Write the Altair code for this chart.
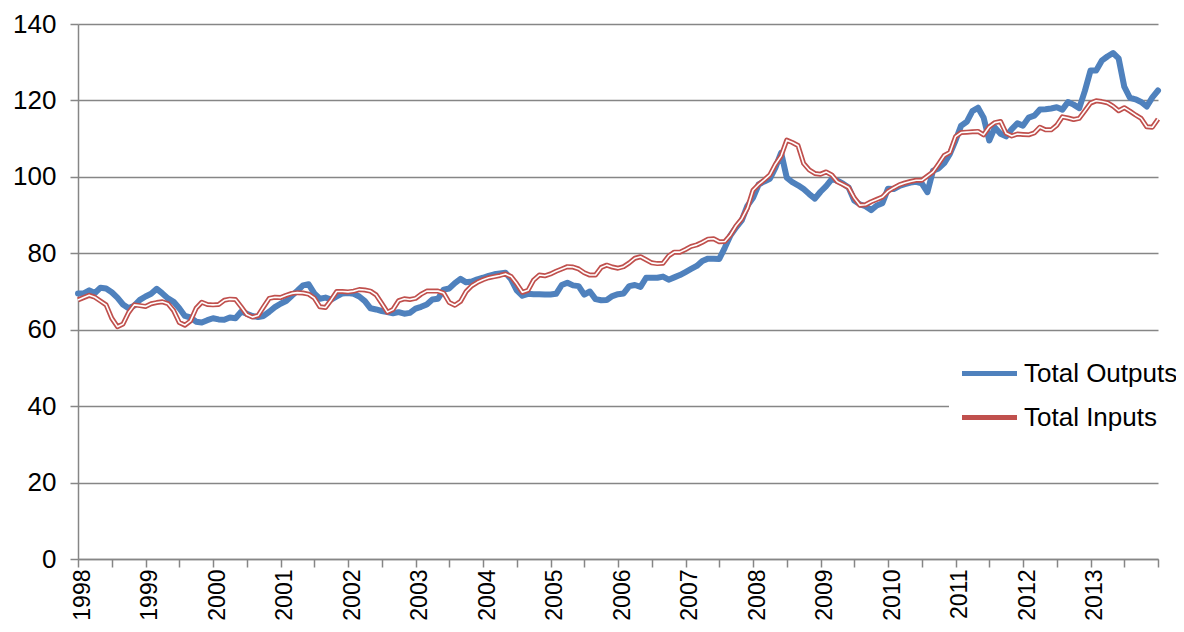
import altair as alt
import pandas as pd

years = list(range(1998, 2014))
series_names = ["Total Outputs", "Total Inputs"]
series_colors = ["#4F81BD", "#C0504D"]
y_ticks = [0, 20, 40, 60, 80, 100, 120, 140]

# Monthly index values, Jan 1998 onward
total_outputs = [
    69.5, 69.5, 70.3, 69.6, 71.0, 70.8, 69.8, 68.4, 66.6, 65.6, 66.3, 67.8,
    68.7, 69.4, 70.7, 69.5, 68.2, 67.3, 65.6, 63.6, 63.2, 62.1, 61.9, 62.5,
    63.0, 62.7, 62.6, 63.2, 63.0, 64.7, 64.2, 63.6, 63.3, 63.6, 64.7, 65.9,
    66.8, 67.5, 68.9, 70.2, 71.6, 71.9, 69.5, 68.1, 68.4, 67.9, 68.7, 69.5,
    69.6, 69.4, 68.7, 67.5, 65.6, 65.3, 64.9, 64.6, 64.3, 64.6, 64.2, 64.4,
    65.5, 66.0, 66.6, 67.9, 68.1, 70.5, 70.8, 72.2, 73.3, 72.4, 72.6, 73.2,
    73.6, 74.1, 74.5, 74.7, 74.9, 73.2, 70.3, 68.9, 69.4, 69.3, 69.3, 69.2,
    69.2, 69.4, 71.7, 72.3, 71.6, 71.4, 69.2, 70.0, 68.0, 67.7, 67.8, 68.8,
    69.3, 69.5, 71.4, 71.7, 71.2, 73.6, 73.6, 73.6, 73.9, 73.1, 73.7, 74.3,
    75.1, 75.9, 76.7, 78.0, 78.6, 78.6, 78.5, 81.5, 84.7, 86.8, 88.6, 92.4,
    94.5, 98.0, 98.8, 99.5, 102.5, 106.3, 99.8, 98.6, 97.8, 96.8, 95.5, 94.3,
    96.1, 97.6, 99.4, 99.0, 98.2, 97.2, 93.8, 92.8, 92.3, 91.3, 92.5, 93.1,
    96.9, 96.8, 97.6, 98.1, 98.5, 98.7, 98.3, 96.0, 101.6, 102.2, 103.6, 106.0,
    109.5, 113.4, 114.4, 117.2, 118.1, 115.5, 109.5, 112.9, 111.3, 110.6, 112.5, 114.0,
    113.4, 115.5, 116.0, 117.6, 117.7, 117.9, 118.2, 117.6, 119.6, 118.9, 118.0, 122.5,
    127.8, 127.8, 130.4, 131.5, 132.4, 131.0, 123.6, 120.7, 120.3, 119.6, 118.4, 120.8,
    122.6,
]

total_inputs = [
    67.8, 68.4, 69.0, 68.5, 67.5, 66.5, 63.0, 60.8, 61.5, 64.5, 66.5, 66.3,
    66.1, 66.8, 67.1, 67.3, 66.8, 65.0, 61.9, 61.2, 62.3, 65.6, 67.2, 66.6,
    66.5, 66.6, 67.7, 68.0, 67.9, 66.0, 64.0, 63.3, 63.7, 66.0, 68.2, 68.5,
    68.4, 69.0, 69.5, 69.7, 69.6, 69.3, 68.3, 66.0, 65.8, 67.8, 70.0, 70.0,
    69.9, 70.1, 70.5, 70.4, 70.1, 69.1, 66.9, 64.6, 65.3, 67.6, 68.1, 67.9,
    68.2, 69.3, 70.1, 70.1, 70.1, 69.6, 67.1, 66.4, 67.4, 70.0, 71.5, 72.4,
    73.1, 73.6, 73.9, 74.2, 74.6, 73.9, 72.0, 69.8, 70.3, 73.0, 74.3, 74.1,
    74.6, 75.3, 75.9, 76.5, 76.4, 75.9, 74.9, 74.3, 74.3, 76.3, 76.9, 76.4,
    76.1, 76.5, 77.5, 78.7, 79.1, 78.3, 77.5, 77.3, 77.4, 79.3, 80.3, 80.3,
    81.0, 81.8, 82.2, 82.9, 83.7, 83.8, 83.0, 83.1, 84.8, 87.2, 89.0, 91.8,
    96.5, 98.0, 99.2, 100.5, 103.3, 105.5, 109.6, 109.0, 108.2, 103.5, 101.8, 100.9,
    100.7, 101.3, 100.5, 98.7, 98.0, 97.2, 94.5, 92.6, 92.7, 93.5, 94.1, 94.7,
    96.2, 97.1, 97.9, 98.4, 98.8, 99.1, 99.1, 100.2, 101.3, 103.4, 105.6, 106.4,
    110.5, 111.6, 111.7, 111.8, 111.9, 111.0, 113.1, 114.2, 114.5, 111.4, 110.7, 111.2,
    111.1, 111.0, 111.5, 113.0, 112.3, 112.3, 113.5, 115.7, 115.4, 115.0, 115.3, 117.3,
    119.3, 119.9, 119.7, 119.4, 118.5, 117.3, 118.1, 117.2, 116.2, 115.3, 113.1, 113.0,
    115.1,
]

n_out = len(total_outputs)
n_in = len(total_inputs)
df = pd.DataFrame({
    "m": list(range(n_out)) + list(range(n_in)),
    "value": total_outputs + total_inputs,
    "series": [series_names[0]] * n_out + [series_names[1]] * n_in,
})

last_m = 12 * len(years)
start_year = years[0]

x_enc = alt.X(
    "m:Q",
    scale=alt.Scale(domain=[0, last_m], nice=False, zero=False),
    axis=alt.Axis(
        values=list(range(0, last_m + 1, 6)),
        labelExpr=f"(datum.value % 12 == 0 && datum.value < {last_m}) ? toString({start_year} + floor(datum.value / 12)) : ''",
        labelAngle=-90,
        labelPadding=2,
        labelOffset=4,
        labelFontSize=23,
        grid=False,
        title=None,
        labelOverlap=False,
    ),
)
y_enc = alt.Y(
    "value:Q",
    scale=alt.Scale(domain=[0, 140], nice=False),
    axis=alt.Axis(values=y_ticks, title=None, labelPadding=14, grid=True),
)
color_enc = alt.Color(
    "series:N",
    scale=alt.Scale(domain=series_names, range=series_colors),
    legend=alt.Legend(
        title=None,
        orient="none",
        legendX=871,
        legendY=309,
        symbolType="M-1.25,0H1.25",
        symbolSize=1936,
        symbolStrokeWidth=5,
        labelFontSize=26,
        labelFont="Liberation Sans",
        labelColor="black",
        labelOffset=10,
        fillColor="white",
        padding=16,
        rowPadding=6,
        direction="vertical",
    ),
)

base = alt.Chart(df)

blue = base.transform_filter(alt.datum.series == series_names[0]).mark_line(
    strokeWidth=6, strokeJoin="round", strokeCap="round"
).encode(x=x_enc, y=y_enc, color=color_enc)

red_outer = base.transform_filter(alt.datum.series == series_names[1]).mark_line(
    strokeWidth=5, strokeJoin="round"
).encode(x=x_enc, y=y_enc, color=color_enc)

red_inner = base.transform_filter(alt.datum.series == series_names[1]).mark_line(
    strokeWidth=1.6, strokeJoin="round", color="white"
).encode(x=x_enc, y=y_enc)

chart = alt.layer(blue, red_outer, red_inner).properties(
    width=1080,
    height=535,
    padding={"left": 70, "top": 16, "right": 18, "bottom": 65},
    autosize=alt.AutoSizeParams(type="none"),
    background="white",
).configure_axis(
    labelFont="Liberation Sans",
    labelFontSize=26,
    labelColor="black",
    domainColor="#868686",
    domainWidth=1.5,
    tickColor="#868686",
    tickWidth=1.5,
    tickSize=8,
    gridColor="#868686",
    gridWidth=1.5,
).configure_view(stroke=None)

chart.save("out.html", embed_options={"renderer": "svg", "actions": False})
